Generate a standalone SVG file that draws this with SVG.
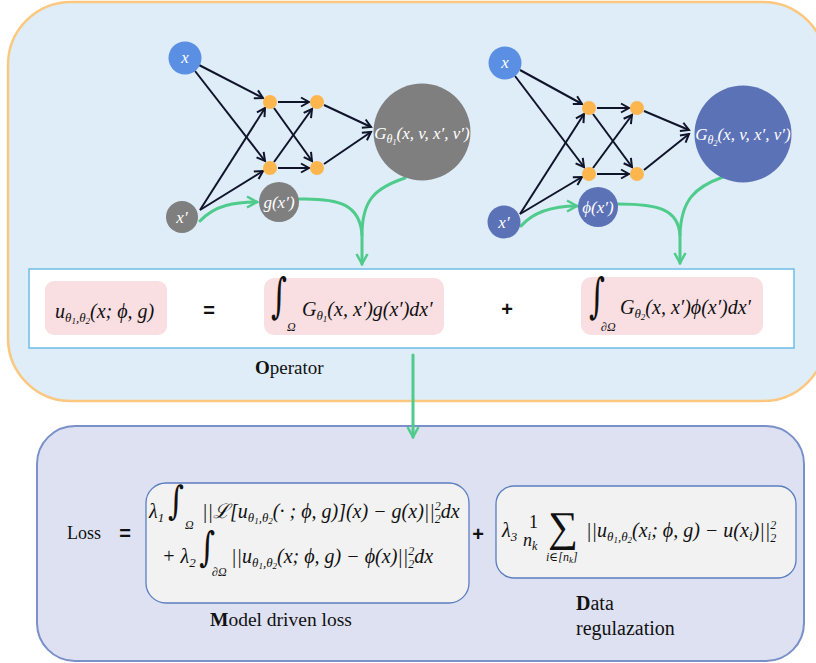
<svg xmlns="http://www.w3.org/2000/svg" width="816" height="663" viewBox="0 0 816 663">
<defs>
<style>
.m{font-family:'Liberation Serif','DejaVu Serif',serif;font-style:italic;fill:#111}
.w{font-family:'Liberation Serif','DejaVu Serif',serif;font-style:italic;fill:#fff}
.r{font-family:'Liberation Serif','DejaVu Serif',serif;fill:#111}
.op{font-family:'Liberation Sans',Arial,sans-serif;font-weight:bold;fill:#111}
.int{font-family:'DejaVu Serif','Liberation Serif',serif;fill:#111}
.e{stroke:#10142a;stroke-width:2;fill:none;marker-end:url(#ah)}
.g{stroke:#4fcb8c;stroke-width:3;fill:none;stroke-linecap:round}
.ga{stroke:#4fcb8c;stroke-width:3;fill:none;stroke-linecap:round;marker-end:url(#gh)}
.pink{fill:#f9dee2}
.orn{fill:#fdb54e}
</style>
<marker id="ah" viewBox="0 0 12 12" refX="10" refY="6" markerWidth="12" markerHeight="12" markerUnits="userSpaceOnUse" orient="auto">
<path d="M2,1.5 L10,6 L2,10.5" fill="none" stroke="#10142a" stroke-width="2"/>
</marker>
<marker id="gh" viewBox="0 0 14 14" refX="12" refY="7" markerWidth="14" markerHeight="14" markerUnits="userSpaceOnUse" orient="auto">
<path d="M2,1.5 L12,7 L2,12.5" fill="none" stroke="#4fcb8c" stroke-width="2.5"/>
</marker>
</defs>

<g id="operator-panel">
<rect x="8" y="2" width="818" height="399" rx="63" fill="#deedf8" stroke="#fcc77f" stroke-width="2.5"/>
<rect x="29" y="269" width="765" height="79" fill="#ffffff" stroke="#6cbde8" stroke-width="1.5"/>
<text class="r" x="255" y="374" font-size="19"><tspan font-weight="bold">O</tspan>perator</text>
</g>

<g id="loss-panel">
<rect x="37" y="426" width="767" height="235" rx="38" fill="#dde1f2" stroke="#7a90c9" stroke-width="2"/>
</g>

<g id="connectors">
<line class="e" x1="199" y1="65" x2="263" y2="98"/>
<line class="e" x1="195" y1="71" x2="265" y2="161"/>
<line class="e" x1="200" y1="210" x2="265" y2="108"/>
<line class="e" x1="200" y1="210" x2="263" y2="171"/>
<line class="e" x1="278" y1="102" x2="309" y2="102"/>
<line class="e" x1="274" y1="108" x2="312" y2="161"/>
<line class="e" x1="274" y1="162" x2="312" y2="109"/>
<line class="e" x1="278" y1="168" x2="309" y2="168"/>
<line class="e" x1="324" y1="105" x2="371" y2="127"/>
<line class="e" x1="324" y1="164" x2="371" y2="132"/>
<path class="ga" d="M200,221 C215,205 235,202 257,202"/>
<path class="g" d="M405,178 C375,188 362,200 362,235"/>
<path class="ga" d="M299,199 C340,198 360,205 362,235 L362,264"/>
<line class="e" x1="520" y1="70" x2="582" y2="104"/>
<line class="e" x1="515" y1="76" x2="584" y2="167"/>
<line class="e" x1="520" y1="214" x2="584" y2="114"/>
<line class="e" x1="520" y1="214" x2="582" y2="177"/>
<line class="e" x1="597" y1="108" x2="629" y2="108"/>
<line class="e" x1="593" y1="114" x2="632" y2="167"/>
<line class="e" x1="593" y1="168" x2="632" y2="115"/>
<line class="e" x1="597" y1="174" x2="629" y2="174"/>
<line class="e" x1="644" y1="111" x2="689" y2="130"/>
<line class="e" x1="644" y1="170" x2="689" y2="134"/>
<path class="ga" d="M521,226 C535,210 555,206 577,206"/>
<path class="g" d="M723,177 C695,187 681,200 680,235"/>
<path class="ga" d="M618,204 C660,204 678,210 680,235 L680,263"/>
<path class="ga" d="M413,355 L413,437"/>
</g>

<g id="net1-x"><circle cx="185" cy="58" r="16.5" fill="#5a8fe3"/><text class="w" x="185" y="63" font-size="17" text-anchor="middle">x</text></g>
<g id="net1-xp"><circle cx="182" cy="217" r="16" fill="#7f7f7f"/><text class="w" x="182" y="223" font-size="17" text-anchor="middle">x′</text></g>
<g id="net1-h11"><circle class="orn" cx="270" cy="102" r="7"/></g>
<g id="net1-h12"><circle class="orn" cx="317" cy="102" r="7"/></g>
<g id="net1-h21"><circle class="orn" cx="270" cy="168" r="7"/></g>
<g id="net1-h22"><circle class="orn" cx="317" cy="168" r="7"/></g>
<g id="net1-G"><circle cx="422" cy="132" r="48.5" fill="#7f7f7f"/><text class="w" x="422" y="139" font-size="17" text-anchor="middle">G<tspan font-size="12" dy="4">θ</tspan><tspan font-size="8" dy="2">1</tspan><tspan dy="-6">(x, v, x′, v′)</tspan></text></g>
<g id="net1-g"><circle cx="279" cy="202" r="20" fill="#7f7f7f"/><text class="w" x="279" y="208" font-size="17" text-anchor="middle">g(x′)</text></g>

<g id="net2-x"><circle cx="505" cy="63" r="16.5" fill="#5a8fe3"/><text class="w" x="505" y="68" font-size="17" text-anchor="middle">x</text></g>
<g id="net2-xp"><circle cx="504" cy="222" r="16.5" fill="#5c72b7"/><text class="w" x="504" y="228" font-size="17" text-anchor="middle">x′</text></g>
<g id="net2-h11"><circle class="orn" cx="589" cy="108" r="7"/></g>
<g id="net2-h12"><circle class="orn" cx="637" cy="108" r="7"/></g>
<g id="net2-h21"><circle class="orn" cx="589" cy="174" r="7"/></g>
<g id="net2-h22"><circle class="orn" cx="637" cy="174" r="7"/></g>
<g id="net2-G"><circle cx="743" cy="134" r="48.5" fill="#5c72b7"/><text class="w" x="743" y="140" font-size="17" text-anchor="middle">G<tspan font-size="12" dy="4">θ</tspan><tspan font-size="8" dy="2">2</tspan><tspan dy="-6">(x, v, x′, v′)</tspan></text></g>
<g id="net2-phi"><circle cx="598" cy="207" r="20" fill="#5c72b7"/><text class="w" x="598" y="213" font-size="17" text-anchor="middle">ϕ(x′)</text></g>

<g id="eq-u">
<rect class="pink" x="45" y="281" width="122" height="54" rx="9"/>
<text class="m" x="55" y="318" font-size="20">u<tspan font-size="13" dy="4">θ</tspan><tspan font-size="9" dy="2">1</tspan><tspan font-size="13" dy="-2">,θ</tspan><tspan font-size="9" dy="2">2</tspan><tspan dy="-6">(x; ϕ, g)</tspan></text>
</g>
<g id="eq-equals"><text class="op" x="209" y="317" font-size="20" text-anchor="middle">=</text></g>
<g id="eq-term1">
<rect class="pink" x="264" y="278" width="180" height="57" rx="10"/>
<text class="int" transform="translate(271,312) scale(0.9,1.4)" font-size="34">∫</text>
<text class="m" x="287" y="331" font-size="12">Ω</text>
<text class="m" x="302" y="316" font-size="20">G<tspan font-size="13" dy="4">θ</tspan><tspan font-size="9" dy="2">1</tspan><tspan dy="-6">(x, x′)g(x′)dx′</tspan></text>
</g>
<g id="eq-plus"><text class="op" x="507" y="316" font-size="20" text-anchor="middle">+</text></g>
<g id="eq-term2">
<rect class="pink" x="581" y="277" width="182" height="58" rx="10"/>
<text class="int" transform="translate(589,312) scale(0.9,1.4)" font-size="34">∫</text>
<text class="m" x="601" y="331" font-size="12">∂Ω</text>
<text class="m" x="620" y="314" font-size="20">G<tspan font-size="13" dy="4">θ</tspan><tspan font-size="9" dy="2">2</tspan><tspan dy="-6">(x, x′)ϕ(x′)dx′</tspan></text>
</g>

<g id="loss-label">
<text class="r" x="67" y="539" font-size="18">Loss</text>
<text class="op" x="125" y="540" font-size="20" text-anchor="middle">=</text>
</g>

<g id="model-loss">
<rect x="146" y="483" width="323" height="120" rx="20" fill="#f2f2f2" stroke="#5b7ec0" stroke-width="1.3"/>
<text class="m" x="149" y="518" font-size="20">λ<tspan font-size="13" dy="4">1</tspan></text>
<text class="int" transform="translate(168,514) scale(0.9,1.15)" font-size="34">∫</text>
<text class="m" x="185" y="529" font-size="12">Ω</text>
<text class="m" x="202" y="518" font-size="20">||ℒ[u<tspan font-size="13" dy="4">θ</tspan><tspan font-size="9" dy="2">1</tspan><tspan font-size="13" dy="-2">,θ</tspan><tspan font-size="9" dy="2">2</tspan><tspan dy="-6">(· ; ϕ, g)](x) − g(x)||</tspan><tspan font-size="12" dy="-8">2</tspan><tspan font-size="12" dx="-6" dy="13">2</tspan><tspan dy="-5">dx</tspan></text>
<text class="m" x="162" y="563" font-size="20">+ λ<tspan font-size="13" dy="4">2</tspan></text>
<text class="int" transform="translate(199,561) scale(0.9,1.2)" font-size="34">∫</text>
<text class="m" x="212" y="576" font-size="12">∂Ω</text>
<text class="m" x="231" y="563" font-size="20">||u<tspan font-size="13" dy="4">θ</tspan><tspan font-size="9" dy="2">1</tspan><tspan font-size="13" dy="-2">,θ</tspan><tspan font-size="9" dy="2">2</tspan><tspan dy="-6">(x; ϕ, g) − ϕ(x)||</tspan><tspan font-size="12" dy="-8">2</tspan><tspan font-size="12" dx="-6" dy="13">2</tspan><tspan dy="-5">dx</tspan></text>
<text class="r" x="210" y="626" font-size="19.5"><tspan font-weight="bold">M</tspan>odel driven loss</text>
</g>

<g id="loss-plus"><text class="op" x="478" y="541" font-size="20" text-anchor="middle">+</text></g>

<g id="data-loss">
<rect x="496" y="486" width="300" height="92" rx="18" fill="#f2f2f2" stroke="#5b7ec0" stroke-width="1.3"/>
<text class="m" x="502" y="537" font-size="20">λ<tspan font-size="13" dy="4">3</tspan></text>
<text class="r" x="529" y="528" font-size="18">1</text>
<text class="m" x="523" y="546" font-size="18">n<tspan font-size="12" dy="4">k</tspan></text>
<text class="r" x="548" y="541" font-size="42">∑</text>
<text class="m" x="546" y="561" font-size="12">i∈[n<tspan font-size="9" dy="2">k</tspan><tspan dy="-2">]</tspan></text>
<text class="m" x="586" y="537" font-size="20">||u<tspan font-size="13" dy="4">θ</tspan><tspan font-size="9" dy="2">1</tspan><tspan font-size="13" dy="-2">,θ</tspan><tspan font-size="9" dy="2">2</tspan><tspan dy="-6">(x</tspan><tspan font-size="13" dy="3">i</tspan><tspan dy="-3">; ϕ, g) − u(x</tspan><tspan font-size="13" dy="3">i</tspan><tspan dy="-3">)||</tspan><tspan font-size="12" dy="-8">2</tspan><tspan font-size="12" dx="-6" dy="13">2</tspan></text>
<text class="r" x="576" y="610" font-size="20"><tspan font-weight="bold">D</tspan>ata</text>
<text class="r" x="576" y="635" font-size="20">regulazation</text>
</g>
</svg>
